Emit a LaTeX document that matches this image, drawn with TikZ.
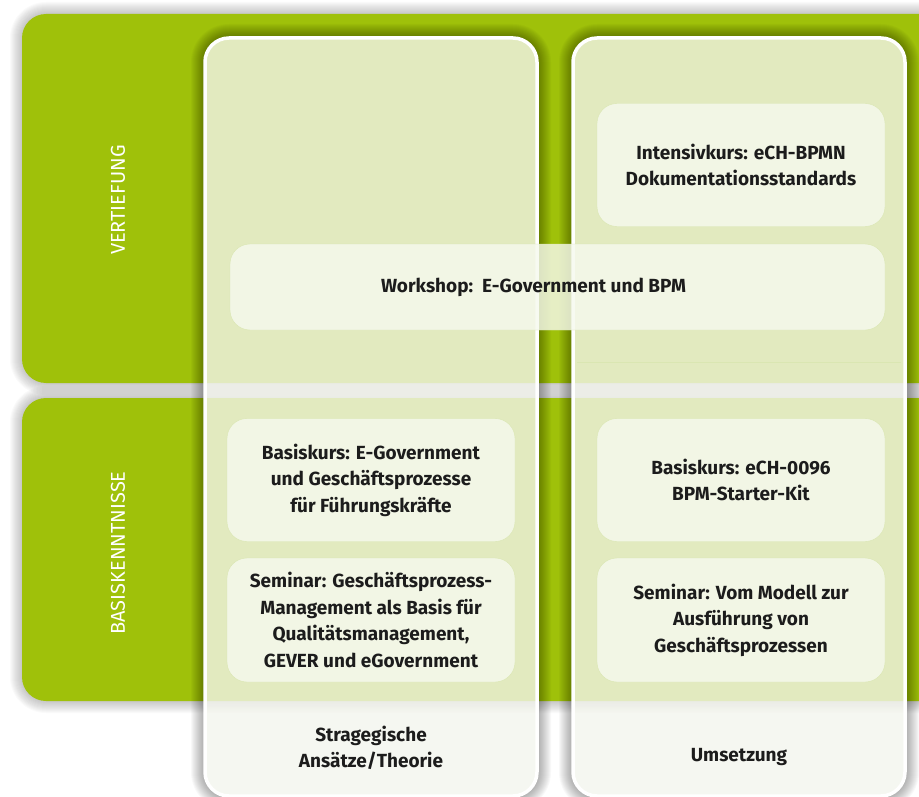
\documentclass[tikz,border=0pt]{standalone}
\usepackage{fontspec}
\setmainfont{Fira Sans}
\newfontfamily\labelfont{Fira Sans}
\definecolor{bandgreen}{RGB}{159,193,10}
\definecolor{columnfill}{RGB}{243,245,237}
\definecolor{boxfill}{RGB}{246,249,238}
\definecolor{boxline}{RGB}{218,230,178}
\definecolor{textdark}{RGB}{28,28,28}

\begin{document}
\begin{tikzpicture}
[x=1pt, y=-1pt,
band/.style={fill=bandgreen, rounded corners=24pt},
column/.style={draw=white, line width=3.5pt, fill=columnfill, fill opacity=0.8, rounded corners=24pt},
coursebox/.style={rectangle, rounded corners=20pt, fill=boxfill, fill opacity=0.82, text opacity=1, draw=boxline, text=textdark, font=\bfseries\fontsize{19}{26.5}\selectfont, align=center, minimum width=288pt, minimum height=123pt},
levellabel/.style={rotate=90, text=white, font=\labelfont\fontsize{20}{24}\selectfont},
columnlabel/.style={text=textdark, font=\bfseries\fontsize{19}{26.5}\selectfont, align=center}]
\useasboundingbox (0,0) rectangle (919,797);
\clip (0,0) rectangle (919,797);

% shadows of the two bands
\foreach \d [evaluate=\d as \r using 24+\d] in {1,...,12} {
  \fill[black, opacity=0.018, rounded corners=\r pt] (22-\d,14-\d) rectangle (960+\d,383+\d);
  \fill[black, opacity=0.018, rounded corners=\r pt] (22-\d,398-\d) rectangle (960+\d,701+\d);
}
\fill[band] (22,14) rectangle (960,383);
\fill[band] (22,398) rectangle (960,701);

% shadows of the columns, only outside them
\foreach \d [evaluate=\d as \r using 24+\d] in {1,...,14} {
  \fill[black, opacity=0.026, even odd rule] [rounded corners=\r pt] (205-\d,38-\d) rectangle (537+\d,796+\d)
    [rounded corners=24pt] (205,38) rectangle (537,796);
  \fill[black, opacity=0.026, even odd rule] [rounded corners=\r pt] (573-\d,38-\d) rectangle (905+\d,796+\d)
    [rounded corners=24pt] (573,38) rectangle (905,796);
}
\filldraw[column] (205,38) rectangle (537,796);
\filldraw[column] (573,38) rectangle (905,796);
\draw[boxline] (577,362) -- (901,362);

\node[levellabel] (vertiefung) at (118,200) {VERTIEFUNG};
\node[levellabel] (basis) at (118,553) {BASISKENNTNISSE};

\node[coursebox] (intensiv) at (741,165) {Intensivkurs: eCH-BPMN\\Dokumentationsstandards};
\node[coursebox, minimum width=655pt, minimum height=86pt] (workshop) at (557.5,287) {Workshop:\ \ E-Government und BPM\hspace*{48pt}};
\node[coursebox] (basisegov) at (371,480) {Basiskurs: E-Government\\und Gesch\"aftsprozesse\\f\"ur F\"uhrungskr\"afte};
\node[coursebox, minimum height=124pt] (seminarbpm) at (371,620) {Seminar: Gesch\"aftsprozess-\\Management als Basis f\"ur\\Qualit\"atsmanagement,\\GEVER und eGovernment};
\node[coursebox] (basisech) at (741,480) {Basiskurs: eCH-0096\\BPM-Starter-Kit};
\node[coursebox, minimum height=124pt] (seminarmodell) at (741,620) {Seminar: Vom Modell zur\\Ausf\"uhrung von\\Gesch\"aftsprozessen};

\node[columnlabel] (strategie) at (371,748) {Stragegische\\Ans\"atze/Theorie};
\node[columnlabel] (umsetzung) at (739,757) {Umsetzung};
\end{tikzpicture}
\end{document}
